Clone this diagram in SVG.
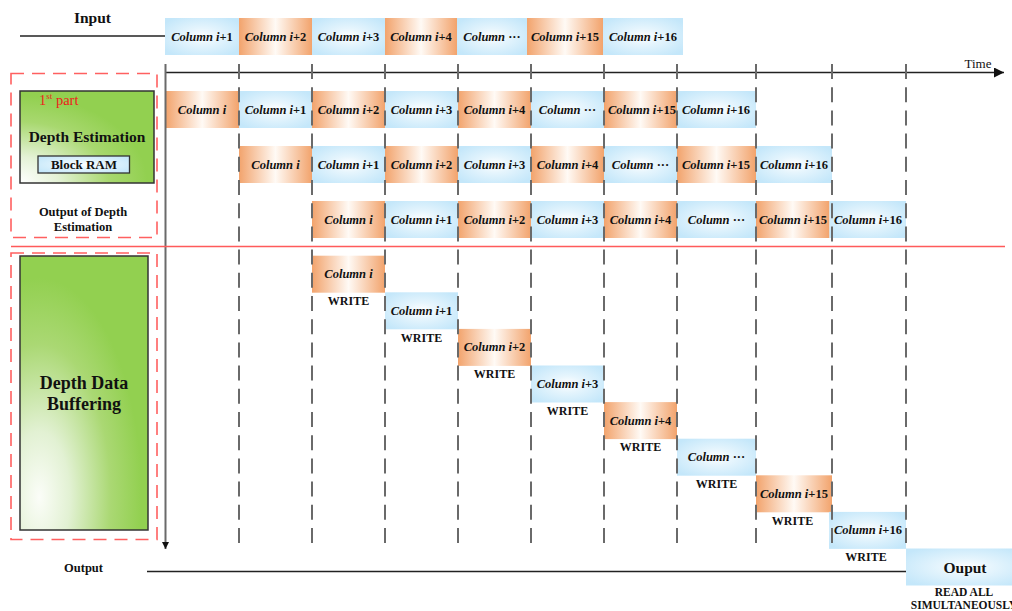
<svg xmlns="http://www.w3.org/2000/svg" width="1012" height="611" viewBox="0 0 1012 611">
  <style>
    .lbl { font-family: "Liberation Serif", serif; font-weight: bold; fill: #111; }
    .col { font-family: "Liberation Serif", serif; font-weight: bold; font-style: italic; font-size: 12.5px; fill: #111; text-anchor: middle; }
    .col .up { font-style: normal; }
    .wr { font-family: "Liberation Serif", serif; font-weight: bold; font-size: 12px; fill: #111; text-anchor: middle; }
    .o { fill: url(#gOrange); }
    .b { fill: url(#gBlue); }
    .grid { stroke: #6a6a6a; stroke-width: 2; stroke-dasharray: 15 8.2; fill: none; }
    .redbox { fill: none; stroke: #ff6060; stroke-width: 1.6; stroke-dasharray: 13 8; }
  </style>
  <defs>
    <linearGradient id="gOrange" x1="0" y1="0" x2="1" y2="0">
      <stop offset="0" stop-color="#f2a36c"/>
      <stop offset="0.5" stop-color="#fffaf5"/>
      <stop offset="1" stop-color="#f2a36c"/>
    </linearGradient>
    <radialGradient id="gBlue" cx="0.5" cy="0.5" r="0.62">
      <stop offset="0" stop-color="#ffffff"/>
      <stop offset="0.35" stop-color="#e6f5fd"/>
      <stop offset="1" stop-color="#c4e7fa"/>
    </radialGradient>
    <radialGradient id="gGreen1" cx="0" cy="1" r="0.95">
      <stop offset="0" stop-color="#ffffff"/>
      <stop offset="0.3" stop-color="#e4f2d6"/>
      <stop offset="0.7" stop-color="#a8d86f"/>
      <stop offset="1" stop-color="#92d050"/>
    </radialGradient>
    <radialGradient id="gGreen2" cx="0.15" cy="0.88" r="0.8">
      <stop offset="0" stop-color="#fbfdf8"/>
      <stop offset="0.3" stop-color="#e2f1d3"/>
      <stop offset="0.7" stop-color="#aad873"/>
      <stop offset="1" stop-color="#92d050"/>
    </radialGradient>
    <marker id="arrowR" viewBox="0 0 10 10" refX="10" refY="5" markerWidth="10" markerHeight="10" markerUnits="userSpaceOnUse" orient="auto">
      <path d="M0,0 L10,5 L0,10 z" fill="#111"/>
    </marker>
    <marker id="arrowD" viewBox="0 0 10 10" refX="10" refY="5" markerWidth="7" markerHeight="7" markerUnits="userSpaceOnUse" orient="auto">
      <path d="M0,0 L10,5 L0,10 z" fill="#111"/>
    </marker>
  </defs>

  <rect width="1012" height="611" fill="#ffffff"/>

  <!-- left panels -->
  <g id="part1">
    <rect class="redbox" x="11" y="73.5" width="146" height="164"/>
    <rect x="20" y="91" width="134" height="92" fill="url(#gGreen1)" stroke="#333" stroke-width="1.5"/>
    <text x="39" y="105" font-family="Liberation Serif, serif" font-size="14.5" fill="#ee1c1c">1<tspan font-size="9" dy="-6">st</tspan><tspan dy="6"> part</tspan></text>
    <text class="lbl" x="87" y="142" font-size="15.5" text-anchor="middle">Depth Estimation</text>
  </g>
  <g id="block-ram">
    <rect x="38" y="156" width="91.5" height="17" fill="url(#gBlue)" stroke="#333" stroke-width="1.3"/>
    <text class="lbl" x="84" y="169" font-size="13" text-anchor="middle">Block RAM</text>
  </g>
  <g id="output-depth-label">
    <text class="lbl" x="83" y="215.5" font-size="12.5" text-anchor="middle">Output of Depth</text>
    <text class="lbl" x="83" y="230.5" font-size="12.5" text-anchor="middle">Estimation</text>
  </g>
  <g id="part2">
    <rect class="redbox" x="11" y="253" width="146" height="286.5"/>
    <rect x="20" y="256" width="128" height="274" fill="url(#gGreen2)" stroke="#333" stroke-width="1.5"/>
    <text class="lbl" x="84" y="389" font-size="18" text-anchor="middle">Depth Data</text>
    <text class="lbl" x="84" y="410" font-size="18" text-anchor="middle">Buffering</text>
  </g>

  <!-- side labels -->
  <text class="lbl" x="92.5" y="23" font-size="15.5" text-anchor="middle">Input</text>
  <text class="lbl" x="83.5" y="572" font-size="12.5" text-anchor="middle">Output</text>
  <text x="978" y="68" font-family="Liberation Serif, serif" font-size="13" fill="#111" text-anchor="middle">Time</text>

  <!-- input stream -->
  <g id="input-row">
    <rect class="b" x="165" y="18" width="74" height="37"/>
    <text class="col" x="202" y="40.5">Column i<tspan class="up">+1</tspan></text>
    <rect class="o" x="239" y="18" width="73" height="37"/>
    <text class="col" x="275.5" y="40.5">Column i<tspan class="up">+2</tspan></text>
    <rect class="b" x="312" y="18" width="73" height="37"/>
    <text class="col" x="348.5" y="40.5">Column i<tspan class="up">+3</tspan></text>
    <rect class="o" x="385" y="18" width="72" height="37"/>
    <text class="col" x="421" y="40.5">Column i<tspan class="up">+4</tspan></text>
    <rect class="b" x="457" y="18" width="70" height="37"/>
    <text class="col" x="492" y="40.5">Column <tspan class="up">···</tspan></text>
    <rect class="o" x="527" y="18" width="76" height="37"/>
    <text class="col" x="565" y="40.5">Column i<tspan class="up">+15</tspan></text>
    <rect class="b" x="603" y="18" width="80" height="37"/>
    <text class="col" x="643" y="40.5">Column i<tspan class="up">+16</tspan></text>
  </g>

  <!-- depth estimation stage -->
  <g id="stage-row1">
    <rect class="o" x="165.5" y="91" width="73.5" height="37"/>
    <text class="col" x="202" y="113.5">Column i</text>
    <rect class="b" x="239" y="91" width="73" height="37"/>
    <text class="col" x="275.5" y="113.5">Column i<tspan class="up">+1</tspan></text>
    <rect class="o" x="312" y="91" width="73" height="37"/>
    <text class="col" x="348.5" y="113.5">Column i<tspan class="up">+2</tspan></text>
    <rect class="b" x="385" y="91" width="73" height="37"/>
    <text class="col" x="421.5" y="113.5">Column i<tspan class="up">+3</tspan></text>
    <rect class="o" x="458" y="91" width="73" height="37"/>
    <text class="col" x="494.5" y="113.5">Column i<tspan class="up">+4</tspan></text>
    <rect class="b" x="531" y="91" width="73" height="37"/>
    <text class="col" x="567.5" y="113.5">Column <tspan class="up">···</tspan></text>
    <rect class="o" x="604" y="91" width="73" height="37"/>
    <text class="col" x="642" y="113.5">Column i<tspan class="up">+15</tspan></text>
    <rect class="b" x="677" y="91" width="79" height="37"/>
    <text class="col" x="716" y="113.5">Column i<tspan class="up">+16</tspan></text>
  </g>
  <g id="stage-row2">
    <rect class="o" x="239" y="146" width="73" height="37"/>
    <text class="col" x="275.5" y="168.5">Column i</text>
    <rect class="b" x="312" y="146" width="73" height="37"/>
    <text class="col" x="348.5" y="168.5">Column i<tspan class="up">+1</tspan></text>
    <rect class="o" x="385" y="146" width="73" height="37"/>
    <text class="col" x="421.5" y="168.5">Column i<tspan class="up">+2</tspan></text>
    <rect class="b" x="458" y="146" width="73" height="37"/>
    <text class="col" x="494.5" y="168.5">Column i<tspan class="up">+3</tspan></text>
    <rect class="o" x="531" y="146" width="73" height="37"/>
    <text class="col" x="567.5" y="168.5">Column i<tspan class="up">+4</tspan></text>
    <rect class="b" x="604" y="146" width="73" height="37"/>
    <text class="col" x="640.5" y="168.5">Column <tspan class="up">···</tspan></text>
    <rect class="o" x="677" y="146" width="79" height="37"/>
    <text class="col" x="716" y="168.5">Column i<tspan class="up">+15</tspan></text>
    <rect class="b" x="756" y="146" width="76" height="37"/>
    <text class="col" x="794" y="168.5">Column i<tspan class="up">+16</tspan></text>
  </g>
  <g id="stage-row3">
    <rect class="o" x="312" y="201" width="73" height="37"/>
    <text class="col" x="348.5" y="223.5">Column i</text>
    <rect class="b" x="385" y="201" width="73" height="37"/>
    <text class="col" x="421.5" y="223.5">Column i<tspan class="up">+1</tspan></text>
    <rect class="o" x="458" y="201" width="73" height="37"/>
    <text class="col" x="494.5" y="223.5">Column i<tspan class="up">+2</tspan></text>
    <rect class="b" x="531" y="201" width="73" height="37"/>
    <text class="col" x="567.5" y="223.5">Column i<tspan class="up">+3</tspan></text>
    <rect class="o" x="604" y="201" width="73" height="37"/>
    <text class="col" x="640.5" y="223.5">Column i<tspan class="up">+4</tspan></text>
    <rect class="b" x="677" y="201" width="79" height="37"/>
    <text class="col" x="716.5" y="223.5">Column <tspan class="up">···</tspan></text>
    <rect class="o" x="756" y="201" width="73.5" height="37"/>
    <text class="col" x="793" y="223.5">Column i<tspan class="up">+15</tspan></text>
    <rect class="b" x="829.5" y="201" width="76.5" height="37"/>
    <text class="col" x="868" y="223.5">Column i<tspan class="up">+16</tspan></text>
  </g>

  <!-- buffer writes -->
  <g id="write-0">
    <rect class="o" x="312" y="255.7" width="73" height="37"/>
    <text class="col" x="348.5" y="278.2">Column i</text>
    <text class="wr" x="348.5" y="305">WRITE</text>
  </g>
  <g id="write-1">
    <rect class="b" x="385" y="292.3" width="73" height="37"/>
    <text class="col" x="421.5" y="314.8">Column i<tspan class="up">+1</tspan></text>
    <text class="wr" x="421.5" y="341.6">WRITE</text>
  </g>
  <g id="write-2">
    <rect class="o" x="458" y="328.9" width="73" height="37"/>
    <text class="col" x="494.5" y="351.4">Column i<tspan class="up">+2</tspan></text>
    <text class="wr" x="494.5" y="378.2">WRITE</text>
  </g>
  <g id="write-3">
    <rect class="b" x="531" y="365.5" width="73" height="37"/>
    <text class="col" x="567.5" y="388">Column i<tspan class="up">+3</tspan></text>
    <text class="wr" x="567.5" y="414.8">WRITE</text>
  </g>
  <g id="write-4">
    <rect class="o" x="604" y="402.1" width="73" height="37"/>
    <text class="col" x="640.5" y="424.6">Column i<tspan class="up">+4</tspan></text>
    <text class="wr" x="640.5" y="451.4">WRITE</text>
  </g>
  <g id="write-5">
    <rect class="b" x="677" y="438.7" width="79" height="37"/>
    <text class="col" x="716.5" y="461.2">Column <tspan class="up">···</tspan></text>
    <text class="wr" x="716.5" y="488">WRITE</text>
  </g>
  <g id="write-6">
    <rect class="o" x="756" y="475.3" width="76" height="37"/>
    <text class="col" x="794" y="497.8">Column i<tspan class="up">+15</tspan></text>
    <text class="wr" x="792.5" y="524.6">WRITE</text>
  </g>
  <g id="write-7">
    <rect class="b" x="829" y="511.9" width="77" height="37"/>
    <text class="col" x="868" y="534.4">Column i<tspan class="up">+16</tspan></text>
    <text class="wr" x="866" y="561.2">WRITE</text>
  </g>
  <g id="read-out">
    <rect class="b" x="906" y="548.5" width="120" height="37"/>
    <text class="lbl" x="965" y="572.5" font-size="15.5" text-anchor="middle">Ouput</text>
    <text class="lbl" x="964" y="596" font-size="11.5" text-anchor="middle">READ ALL</text>
    <text class="lbl" x="964" y="608.5" font-size="11.5" text-anchor="middle">SIMULTANEOUSLY</text>
  </g>

  <!-- axes, time grid and flow lines -->
  <g id="connectors">
    <line x1="20" y1="36" x2="165" y2="36" stroke="#222" stroke-width="1.3"/>
    <line x1="165" y1="72.5" x2="1004" y2="72.5" stroke="#222" stroke-width="1.6" marker-end="url(#arrowR)"/>
    <line x1="165.5" y1="64" x2="165.5" y2="549" stroke="#6a6a6a" stroke-width="2" marker-end="url(#arrowD)"/>
    <line x1="11" y1="246.5" x2="1005" y2="246.5" stroke="#ff5a5a" stroke-width="1.5"/>
    <line class="grid" x1="239" y1="64" x2="239" y2="545"/>
    <line class="grid" x1="312" y1="64" x2="312" y2="545"/>
    <line class="grid" x1="385" y1="64" x2="385" y2="545"/>
    <line class="grid" x1="458" y1="64" x2="458" y2="545"/>
    <line class="grid" x1="531" y1="64" x2="531" y2="545"/>
    <line class="grid" x1="604" y1="64" x2="604" y2="545"/>
    <line class="grid" x1="677" y1="64" x2="677" y2="545"/>
    <line class="grid" x1="756" y1="64" x2="756" y2="545"/>
    <line class="grid" x1="832" y1="64" x2="832" y2="545"/>
    <line class="grid" x1="906" y1="64" x2="906" y2="548"/>
    <line x1="147" y1="571.5" x2="906" y2="571.5" stroke="#222" stroke-width="1.3"/>
  </g>
</svg>
